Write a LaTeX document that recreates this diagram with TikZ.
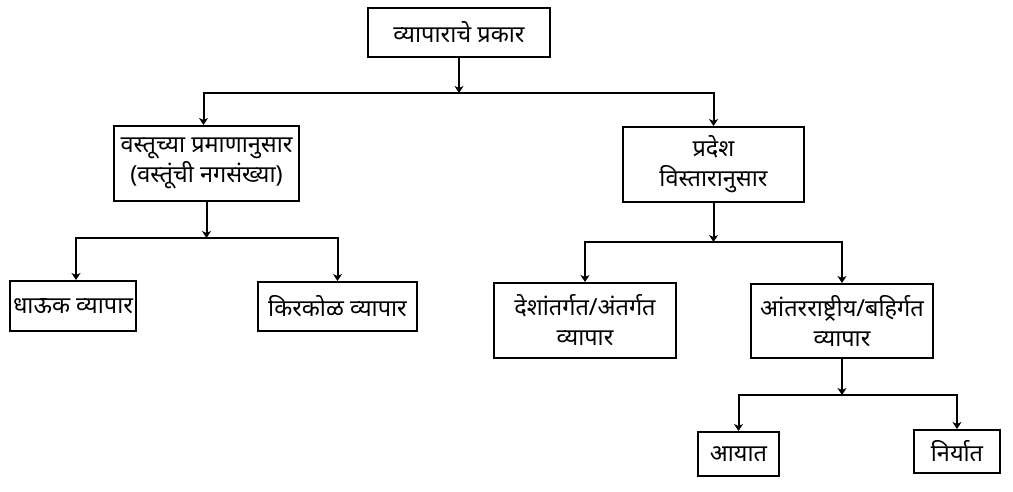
\documentclass[tikz,border=0pt]{standalone}
\usepackage{fontspec}
\newfontfamily\devfont[Script=Devanagari]{Noto Sans}
\usepackage{tikz}
\usetikzlibrary{arrows.meta, positioning, calc}

\begin{document}
\begin{tikzpicture}[
    x=1pt, y=-1pt,
    every node/.style={font=\devfont\fontsize{23.5}{30}\selectfont},
    box/.style={draw=black, line width=2pt, inner sep=2pt, align=center},
    conn/.style={line width=2pt, -{Stealth[length=7pt, width=9pt, inset=2pt]}}
]
\useasboundingbox (0,0) rectangle (1013,491);

% Level 0
\node[box, minimum width=182pt, minimum height=49pt] (prakar) at (459, 32.5) {व्यापाराचे प्रकार};

% Level 1
\node[box, minimum width=185pt, minimum height=75pt] (vastu) at (206.5, 163.5) {वस्तूच्या प्रमाणानुसार\\(वस्तूंची नगसंख्या)};
\node[box, minimum width=181pt, minimum height=75pt] (pradesh) at (713.5, 164.5) {प्रदेश\\विस्तारानुसार};

% Level 2
\node[box, minimum width=126pt, minimum height=50pt] (dhauk) at (73, 306) {धाऊक व्यापार};
\node[box, minimum width=159pt, minimum height=49pt] (kirkol) at (337.5, 306.5) {किरकोळ व्यापार};
\node[box, minimum width=182pt, minimum height=75pt] (antar) at (585, 320.5) {देशांतर्गत/अंतर्गत\\व्यापार};
\node[box, minimum width=182pt, minimum height=74pt] (bahir) at (842, 321) {आंतरराष्ट्रीय/बहिर्गत\\व्यापार};

% Level 3
\node[box, minimum width=81pt, minimum height=44pt] (ayat) at (738.5, 454) {आयात};
\node[box, minimum width=86pt, minimum height=43pt] (niryat) at (957, 451.5) {निर्यात};

% Junctions
\coordinate (j0) at (prakar.south |- 0, 93);
\coordinate (j1) at (vastu.south |- 0, 238);
\coordinate (j2) at (pradesh.south |- 0, 242);
\coordinate (j3) at (bahir.south |- 0, 395);

% Connectors
\draw[conn] (prakar.south) -- (j0);
\draw[conn] (j0) -| ($(vastu.north)+(-3,0)$);
\draw[conn] (j0) -| (pradesh.north);

\draw[conn] (vastu.south) -- (j1);
\draw[conn] (j1) -| ($(dhauk.north)+(3,0)$);
\draw[conn] (j1) -| (kirkol.north);

\draw[conn] (pradesh.south) -- (j2);
\draw[conn] (j2) -| (antar.north);
\draw[conn] (j2) -| (bahir.north);

\draw[conn] (bahir.south) -- (j3);
\draw[conn] (j3) -| (ayat.north);
\draw[conn] (j3) -| (niryat.north);

\end{tikzpicture}
\end{document}
